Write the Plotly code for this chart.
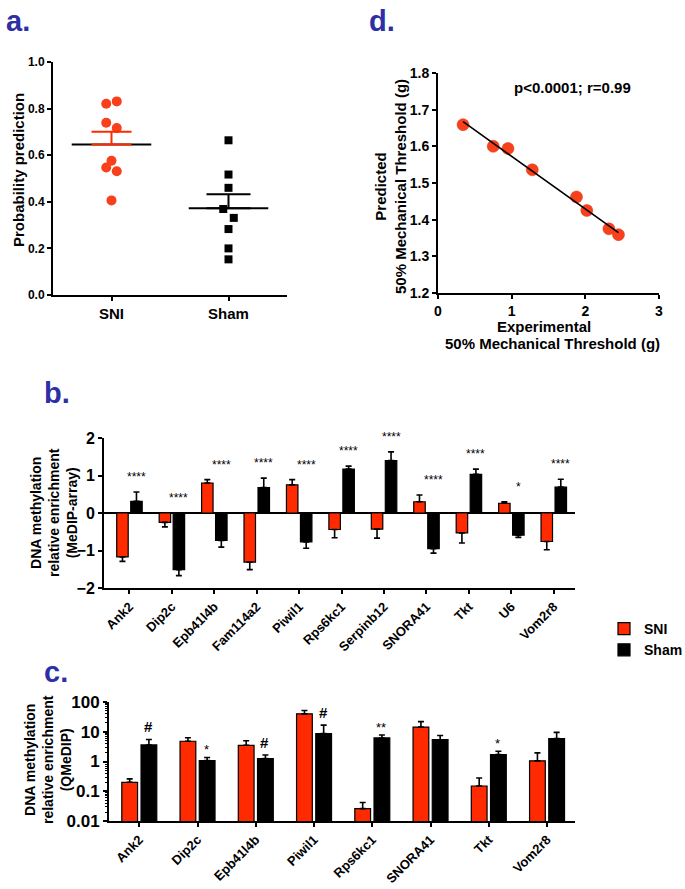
import numpy as np
import plotly.graph_objects as go

# ---------------- data ----------------
# Panel a: probability prediction (individual animals)
groups_a = ["SNI", "Sham"]
sni_prob = [0.821, 0.831, 0.739, 0.717, 0.576, 0.547, 0.531, 0.406]
sni_jitter = [-1, 1, -1, 1, 0, -1, 1, 0]
sham_prob = [0.664, 0.517, 0.460, 0.369, 0.331, 0.283, 0.200, 0.153]
sham_jitter = [0, 0, 0, -1, 1, 0, 0, 0]

# Panel d: experimental vs predicted threshold
exp_thresh = [0.34, 0.75, 0.95, 1.28, 1.88, 2.02, 2.32, 2.45]
pred_thresh = [1.659, 1.600, 1.594, 1.536, 1.462, 1.425, 1.375, 1.359]

# Panel b: MeDIP-array
genes_b = ["Ank2", "Dip2c", "Epb41l4b", "Fam114a2", "Piwil1", "Rps6kc1",
           "Serpinb12", "SNORA41", "Tkt", "U6", "Vom2r8"]
sni_b = [-1.17, -0.25, 0.80, -1.31, 0.75, -0.44, -0.43, 0.30, -0.53, 0.26, -0.76]
sni_b_err = [0.12, 0.12, 0.09, 0.20, 0.14, 0.22, 0.24, 0.18, 0.27, 0.04, 0.22]
sham_b = [0.31, -1.51, -0.73, 0.68, -0.77, 1.17, 1.40, -0.95, 1.03, -0.59, 0.69]
sham_b_err = [0.25, 0.16, 0.18, 0.25, 0.17, 0.08, 0.23, 0.12, 0.14, 0.06, 0.21]
sig_b = ["****", "****", "****", "****", "****", "****", "****", "****", "****", "*", "****"]

# Panel c: QMeDIP
genes_c = ["Ank2", "Dip2c", "Epb41l4b", "Piwil1", "Rps6kc1", "SNORA41", "Tkt", "Vom2r8"]
sni_c = [0.20, 4.8, 3.5, 40, 0.026, 14.4, 0.15, 1.05]
sni_c_err = [0.06, 1.5, 1.5, 12, 0.016, 7.5, 0.13, 0.9]
sham_c = [3.6, 1.07, 1.25, 8.7, 6.2, 5.4, 1.7, 5.9]
sham_c_err = [1.9, 0.3, 0.4, 8.0, 1.6, 2.1, 0.5, 3.6]
sig_c = ["#", "*", "#", "#", "**", "", "*", ""]

# ---------------- style ----------------
W, H = 685, 889
FONT = "Liberation Sans, Arial, sans-serif"
RED = "#FF2A00"
DOT_RED = "#F8401C"
BLUE = "#2E2FA6"


def px(x):
    return x / W


def py(y):
    return 1 - y / H


def dx(a, b):
    return [px(a), px(b)]


def dy(top, bottom):
    return [py(bottom), py(top)]


fig = go.Figure()

# ---------- panel a ----------
jit = 0.045
fig.add_trace(go.Scatter(
    x=[0 + j * jit for j in sni_jitter], y=sni_prob, mode="markers",
    marker=dict(symbol="circle", size=10, color=DOT_RED),
    xaxis="x", yaxis="y", showlegend=False, cliponaxis=False))
fig.add_trace(go.Scatter(
    x=[1 + j * jit for j in sham_jitter], y=sham_prob, mode="markers",
    marker=dict(symbol="square", size=8, color="black"),
    xaxis="x", yaxis="y", showlegend=False, cliponaxis=False))
for i, (vals, col, capw) in enumerate([(sni_prob, RED, 20), (sham_prob, "black", 22)]):
    arr = np.array(vals)
    m = arr.mean()
    sem = arr.std(ddof=1) / np.sqrt(len(arr))
    fig.add_trace(go.Scatter(
        x=[i - 0.34, i + 0.34], y=[m, m], mode="lines",
        line=dict(color="black", width=2), xaxis="x", yaxis="y", showlegend=False))
    fig.add_trace(go.Scatter(
        x=[i], y=[m], mode="markers", marker=dict(size=1, opacity=0),
        error_y=dict(type="data", symmetric=False, array=[sem], arrayminus=[0],
                     color=col, thickness=2, width=capw),
        xaxis="x", yaxis="y", showlegend=False))

# ---------- panel d ----------
fig.add_trace(go.Scatter(
    x=exp_thresh, y=pred_thresh, mode="markers",
    marker=dict(size=12, color=DOT_RED, line=dict(color="#D83010", width=0.5)),
    xaxis="x2", yaxis="y2", showlegend=False))
slope, icpt = np.polyfit(exp_thresh, pred_thresh, 1)
xs = np.array([min(exp_thresh), max(exp_thresh)])
fig.add_trace(go.Scatter(
    x=xs, y=slope * xs + icpt, mode="lines",
    line=dict(color="black", width=1.6), xaxis="x2", yaxis="y2", showlegend=False))


# ---------- panel b ----------
def dir_err(vals, errs):
    up = [e if v >= 0 else 0 for v, e in zip(vals, errs)]
    dn = [e if v < 0 else 0 for v, e in zip(vals, errs)]
    return up, dn


for name, vals, errs, col in [("SNI", sni_b, sni_b_err, RED),
                              ("Sham", sham_b, sham_b_err, "black")]:
    up, dn = dir_err(vals, errs)
    fig.add_trace(go.Bar(
        x=genes_b, y=vals, name=name,
        marker=dict(color=col, line=dict(color="black", width=1.2)),
        error_y=dict(type="data", symmetric=False, array=up, arrayminus=dn,
                     color="black", thickness=1.6, width=3),
        xaxis="x3", yaxis="y3", showlegend=True))

# ---------- panel c ----------
for name, vals, errs, col in [("SNI", sni_c, sni_c_err, RED),
                              ("Sham", sham_c, sham_c_err, "black")]:
    fig.add_trace(go.Bar(
        x=genes_c, y=vals, name=name,
        marker=dict(color=col, line=dict(color="black", width=1.2)),
        error_y=dict(type="data", symmetric=False, array=errs,
                     arrayminus=[0] * len(errs),
                     color="black", thickness=1.6, width=3),
        xaxis="x4", yaxis="y4", showlegend=False))

# ---------------- axes ----------------
axis_common = dict(showline=True, linecolor="black", linewidth=2, ticks="outside",
                   ticklen=4, tickwidth=1.6, tickcolor="black", showgrid=False,
                   zeroline=False, mirror=False, automargin=False)


def tf(size):
    return dict(family=FONT, size=size, color="black", weight="bold")


fig.update_layout(
    xaxis=dict(domain=dx(53, 287), anchor="y", range=[-0.5, 1.5], tickvals=[0, 1],
               ticktext=groups_a, tickfont=tf(15), **axis_common),
    yaxis=dict(domain=dy(62, 295), anchor="x", range=[0, 1], dtick=0.2,
               tickformat=".1f", tickfont=tf(12), **axis_common),
    xaxis2=dict(domain=dx(438, 659), anchor="y2", range=[0, 3], dtick=1,
                tickfont=tf(14), **axis_common),
    yaxis2=dict(domain=dy(73, 293), anchor="x2", range=[1.2, 1.8], dtick=0.1,
                tickformat=".1f", tickfont=tf(14), **axis_common),
    xaxis3=dict(domain=dx(104, 575), anchor="y3", type="category",
                range=[-0.6, 10.5], tickangle=-45, tickfont=tf(13), **axis_common),
    yaxis3=dict(domain=dy(438, 588), anchor="x3", range=[-2, 2], dtick=1,
                tickfont=tf(16), **{**axis_common, "zeroline": True},
                zerolinecolor="black", zerolinewidth=1.8),
    xaxis4=dict(domain=dx(109, 575), anchor="y4", type="category",
                range=[-0.52, 7.48], tickangle=-45, tickfont=tf(13), **axis_common),
    yaxis4=dict(domain=dy(702, 821), anchor="x4", type="log", range=[-2, 2],
                tickvals=[0.01, 0.1, 1, 10, 100],
                ticktext=["0.01", "0.1", "1", "10", "100"], tickfont=tf(17),
                minor=dict(ticks="outside", ticklen=2, tickcolor="black",
                           tickwidth=1, dtick="D1", showgrid=False),
                **axis_common),
    barmode="group", bargap=0.34, bargroupgap=0.18,
    width=W, height=H,
    margin=dict(l=0, r=0, t=0, b=0, pad=0, autoexpand=False),
    paper_bgcolor="white", plot_bgcolor="white",
    font=dict(family=FONT, color="black"),
    legend=dict(x=px(604), y=py(613), xanchor="left", yanchor="top",
                font=tf(14), bgcolor="rgba(0,0,0,0)", tracegroupgap=0,
                itemwidth=30),
)

ann = []
# panel letters
for txt, x, y in [("a.", 4, 21), ("d.", 367, 21), ("b.", 42, 393), ("c.", 42, 672)]:
    ann.append(dict(text=txt, x=px(x), y=py(y), xref="paper", yref="paper",
                    xanchor="left", yanchor="middle", showarrow=False,
                    font=dict(family=FONT, size=29, color=BLUE, weight="bold")))

# axis titles
for txt, x, y, size in [
    ("Probability prediction", 18, 170, 15),
    ("Predicted<br>50% Mechanical Threshold (g)", 390, 187, 15),
    ("DNA methylation<br>relative enrichment<br>(MeDIP-array)", 54, 513, 14),
    ("DNA methylation<br>relative enrichment<br>(QMeDIP)", 48, 760, 14),
]:
    ann.append(dict(text=txt, x=px(x), y=py(y), xref="paper", yref="paper",
                    xanchor="center", yanchor="middle", textangle=-90, showarrow=False,
                    font=tf(size)))
ann.append(dict(text="Experimental", x=px(544), y=py(326), xref="paper", yref="paper",
                xanchor="center", yanchor="middle", showarrow=False, font=tf(15)))
ann.append(dict(text="50% Mechanical Threshold (g)", x=px(552), y=py(343),
                xref="paper", yref="paper", xanchor="center", yanchor="middle",
                showarrow=False, font=tf(15)))
ann.append(dict(text="p&lt;0.0001; r=0.99", x=1.82, y=1.76, xref="x2", yref="y2",
                xanchor="center", yanchor="middle", showarrow=False, font=tf(15)))

# significance marks, panel b
for g, s, v1, e1, v2, e2 in zip(genes_b, sig_b, sni_b, sni_b_err, sham_b, sham_b_err):
    top = max(0, v1 + e1 if v1 > 0 else 0, v2 + e2 if v2 > 0 else 0)
    ann.append(dict(text=s, x=g, y=top, xref="x3", yref="y3", xshift=7, yshift=6,
                    xanchor="center", yanchor="bottom", showarrow=False,
                    font=dict(family=FONT, size=12, color="black")))

# significance marks, panel c
for g, s, v, e in zip(genes_c, sig_c, sham_c, sham_c_err):
    if not s:
        continue
    ann.append(dict(text=s, x=g, y=np.log10(v + e), xref="x4", yref="y4",
                    xshift=9, yshift=(2 if "#" in s else -2),
                    xanchor="center", yanchor="bottom", showarrow=False,
                    font=dict(family=FONT, size=(15 if "#" in s else 13), color="black",
                              weight=("bold" if "#" in s else "normal"))))

fig.update_layout(annotations=ann)
fig.write_html(
    "out.html",
    config={"displayModeBar": False},
    post_script="document.body.style.margin='0px';document.body.style.padding='0px';"
                "document.body.style.overflow='hidden';",
)
